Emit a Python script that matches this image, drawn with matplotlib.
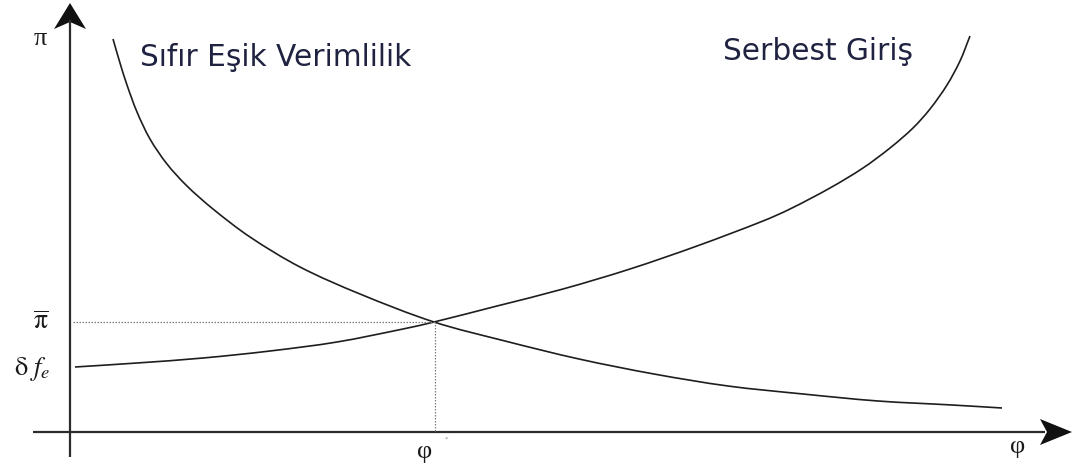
import matplotlib
matplotlib.use("Agg")
import matplotlib.pyplot as plt
import numpy as np
from matplotlib.path import Path
from matplotlib.patches import PathPatch

# Zero cutoff productivity curve (decreasing) and free entry curve (increasing)
zcp_phi = [43, 50, 57, 67, 80, 97, 117, 143, 180, 230, 290, 364, 435, 509, 584, 658, 733, 808, 882, 932]
zcp_pi = [393, 369, 347, 320, 293, 268, 246, 223, 195, 165, 138, 110, 91, 73, 58, 46, 38, 31, 27, 24]

fe_phi = [5, 67, 133, 200, 267, 333, 364, 427, 493, 560, 627, 693, 720, 760, 793, 820, 843, 860, 877, 890, 900]
fe_pi = [65, 69, 74, 81, 90, 103, 110, 126, 143, 163, 186, 211, 223, 244, 264, 284, 304, 323, 347, 371, 396]

# Equilibrium
phi_star = 365
pi_bar = 110

curve_labels = ["Sıfır Eşik Verimlilik", "Serbest Giriş"]


def smooth_path(xs, ys):
    """Cubic Bezier path through every point, chord-length tangents."""
    p = np.column_stack([xs, ys]).astype(float)
    n = len(p)
    d = np.hypot(*np.diff(p, axis=0).T)
    m = np.zeros_like(p)
    m[0] = (p[1] - p[0]) / d[0]
    m[-1] = (p[-1] - p[-2]) / d[-1]
    for i in range(1, n - 1):
        m[i] = (p[i + 1] - p[i - 1]) / (d[i - 1] + d[i])
    verts = [p[0]]
    codes = [Path.MOVETO]
    for i in range(n - 1):
        c1 = p[i] + m[i] * d[i] / 3.0
        c2 = p[i + 1] - m[i + 1] * d[i] / 3.0
        verts += [c1, c2, p[i + 1]]
        codes += [Path.CURVE4] * 3
    return Path(verts, codes)


fig = plt.figure(figsize=(10.73, 4.64), dpi=100)
ax = fig.add_axes([0, 0, 1, 1])
ax.set_xlim(-70, 1003)
ax.set_ylim(-31, 433)
ax.axis("off")

axis_col = "#2b2b2b"
curve_col = "#1e1e1e"

# axes lines
ax.plot([-37, 975], [0, 0], color=axis_col, lw=1.6, solid_capstyle="butt")
ax.plot([0, 0], [-25, 412], color=axis_col, lw=1.6, solid_capstyle="butt")

# arrowheads
ax.fill([1002, 970, 977, 970], [0, 13, 0, -13], color="#111111", lw=0)
ax.fill([0, -16, 0, 16], [429, 403, 410, 403], color="#111111", lw=0)

# curves
for xs, ys in [(zcp_phi, zcp_pi), (fe_phi, fe_pi)]:
    ax.add_patch(PathPatch(smooth_path(xs, ys), facecolor="none",
                           edgecolor=curve_col, lw=1.2))

# dotted guides to the equilibrium
ax.plot([3, phi_star], [pi_bar, pi_bar], color="#808080", lw=0.9, ls=(0, (1.2, 1.2)))
ax.plot([phi_star, phi_star], [1, pi_bar], color="#808080", lw=0.9, ls=(0, (1.2, 1.2)))

plt.rcParams["mathtext.fontset"] = "stix"
serif = "Liberation Serif"
tc = "#1a1a1a"

ax.text(-30, 394, "π", family=serif, fontsize=19, color=tc, ha="center", va="center")
ax.text(-29, 112, r"$\overline{\mathrm{\pi}}$", fontsize=20, color=tc, ha="center", va="center")
ax.text(-38, 64, r"$\mathrm{\delta}\ f_{e}$", fontsize=19, color=tc, ha="center", va="center")
ax.text(355, -19, "φ", family=serif, fontsize=19, color=tc, ha="center", va="center")
ax.text(376, -6, "*", family=serif, fontsize=5, color="#888888", ha="center", va="center")
ax.text(948, -14, "φ", family=serif, fontsize=19, color=tc, ha="center", va="center")

label_col = "#1f2240"
ax.text(206, 375, curve_labels[0], family="DejaVu Sans", fontsize=21.3, color=label_col,
        ha="center", va="center")
ax.text(748, 381, curve_labels[1], family="DejaVu Sans", fontsize=21.3, color=label_col,
        ha="center", va="center")

fig.savefig("out.png", dpi=100)
